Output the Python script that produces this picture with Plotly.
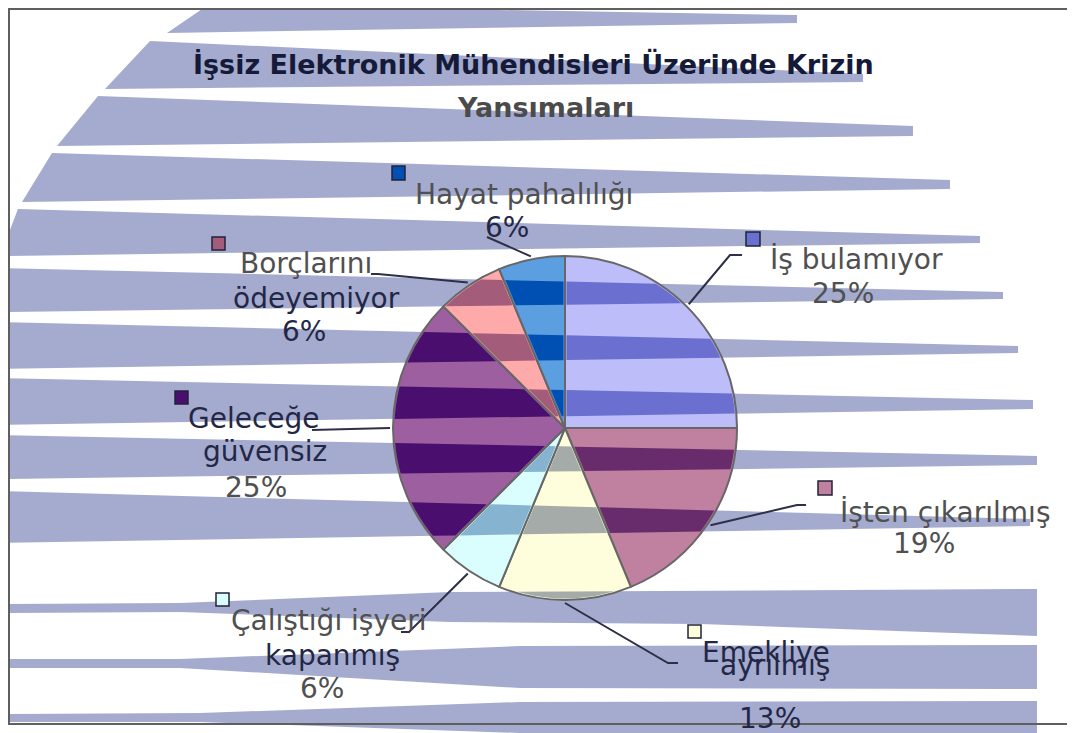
import math
import plotly.graph_objects as go

# ---- data ----
labels = ["İş bulamıyor", "İşten çıkarılmış", "Emekliye ayrılmış",
          "Çalıştığı işyeri kapanmış", "Geleceğe güvensiz",
          "Borçlarını ödeyemiyor", "Hayat pahalılığı"]
counts = [4, 3, 2, 1, 4, 1, 1]
label_lines = [["İş bulamıyor"], ["İşten çıkarılmış"], ["Emekliye", "ayrılmış"],
               ["Çalıştığı işyeri", "kapanmış"], ["Geleceğe", "güvensiz"],
               ["Borçlarını", "ödeyemiyor"], ["Hayat pahalılığı"]]
title_lines = ["İşsiz Elektronik Mühendisleri Üzerinde Krizin", "Yansımaları"]

# ---- style ----
PAGE_W, PAGE_H = 1075, 733
OFF = 8  # page body margin
W, H = PAGE_W - OFF, PAGE_H - OFF
CX, CY, R = 565, 428, 172
FONT = "DejaVu Sans"
stripe_color = "#A4ABCF"

slice_colors = ["#BDBEF9", "#C0809F", "#FEFEDD", "#DAFDFE", "#9D5F9F", "#FFAAAA", "#5C9FE0"]
slice_dark = ["#6A6FD0", "#682C6C", "#A5ABA8", "#86B4D0", "#4A0F6E", "#A45C7B", "#004FB2"]

# text line centres (page px) - last entry of each is the percentage
text_pos = [
    [(856, 259), (843, 293)],
    [(945, 512), (924, 543)],
    [(766, 652), (775, 665), (770, 718)],
    [(329, 620), (332, 655), (322, 688)],
    [(254, 418), (265, 452), (256, 487)],
    [(306, 264), (316, 298), (304, 331)],
    [(524, 195), (507, 228)],
]
# leader line points after the start on the pie edge (page px)
leader_pts = [
    [(730, 255), (742, 255)],
    [(797, 505), (806, 505)],
    [(668, 663), (678, 663)],
    [(409, 632), (401, 632)],
    [(312, 430)],
    [(378, 274), (371, 274)],
    [(487, 237)],
]
keys = [(746, 232, 760, 246), (818, 481, 832, 495), (688, 625, 701, 638),
        (216, 593, 229, 606), (175, 391, 188, 404), (212, 237, 225, 250),
        (392, 166, 405, 180)]

# background stripes of the slide (page px polygons)
stripes = [
    [(208, 5), (797, 15), (797, 23), (167, 33)],
    [(150, 41), (863, 74), (863, 82), (105, 89)],
    [(98, 96), (913, 126), (913, 136), (57, 146)],
    [(52, 153), (950, 180), (950, 189), (22, 202)],
    [(18, 209), (980, 236), (980, 243), (0, 256)],
    [(0, 268), (1003, 292), (1003, 299), (0, 312)],
    [(0, 322), (1018, 346), (1018, 353), (0, 369)],
    [(0, 378), (1033, 400), (1033, 409), (0, 425)],
    [(0, 435), (1037, 456), (1037, 465), (0, 479)],
    [(0, 491), (1030, 519), (1030, 526), (0, 543)],
    [(0, 604), (180, 603), (450, 592), (1037, 589), (1037, 636), (700, 624),
     (450, 622), (180, 612), (0, 613)],
    [(0, 659), (180, 659), (520, 646), (1037, 645), (1037, 689), (520, 688),
     (180, 668), (0, 668)],
    [(0, 714), (200, 713), (520, 702), (1037, 701), (1037, 733), (520, 733),
     (200, 722), (0, 722)],
]


def px(x, y):
    return (x - OFF) / W, 1 - (y - OFF) / H


def path(pts, close=True):
    s = ""
    for i, (x, y) in enumerate(pts):
        u, v = px(x, y)
        s += ("M" if i == 0 else "L") + f"{u:.5f},{v:.5f}"
    return s + ("Z" if close else "")


def inside(pt, poly):
    x, y = pt
    res = False
    for i in range(len(poly)):
        (x1, y1), (x2, y2) = poly[i], poly[i - 1]
        if (y1 > y) != (y2 > y):
            if x < x1 + (y - y1) * (x2 - x1) / (y2 - y1):
                res = not res
    return res


def in_stripe(pt):
    return any(inside(pt, s) for s in stripes)


def clip_half(poly, nx, ny, c):
    # keep part where nx*x + ny*y <= c
    out = []
    n = len(poly)
    for i in range(n):
        p, q = poly[i], poly[(i + 1) % n]
        dp = nx * p[0] + ny * p[1] - c
        dq = nx * q[0] + ny * q[1] - c
        if dp <= 0:
            out.append(p)
        if dp * dq < 0:
            t = dp / (dp - dq)
            out.append((p[0] + t * (q[0] - p[0]), p[1] + t * (q[1] - p[1])))
    return out


def clip_wedge(poly, a1, a2, inset=1.5):
    for k in range(120):
        phi = 2 * math.pi * k / 120
        ux, uy = math.sin(phi), -math.cos(phi)
        poly = clip_half(poly, ux, uy, ux * CX + uy * CY + R - inset)
        if not poly:
            return poly
    for a, sgn in ((a1, 1), (a2, -1)):
        nx, ny = -sgn * math.cos(a), -sgn * math.sin(a)
        poly = clip_half(poly, nx, ny, nx * CX + ny * CY - inset)
        if not poly:
            return poly
    return poly


total = sum(counts)
pct = [int(100 * c / total + 0.5) for c in counts]
starts = []
acc = 0
for c in counts:
    starts.append(2 * math.pi * acc / total)
    acc += c
ends = starts[1:] + [2 * math.pi]

dx0, dy1 = px(CX - R, CY - R)
dx1, dy0 = px(CX + R, CY + R)

fig = go.Figure()
fig.add_trace(go.Pie(
    labels=labels, values=counts, sort=False, direction="clockwise", rotation=0,
    marker=dict(colors=slice_colors, line=dict(color="#676767", width=2)),
    textinfo="none", hoverinfo="label+value+percent", showlegend=False,
    domain=dict(x=[dx0, dx1], y=[dy0, dy1]),
))

shapes = []
for s in stripes:
    shapes.append(dict(type="path", path=path(s), xref="paper", yref="paper",
                       fillcolor=stripe_color, line=dict(width=0), layer="below"))

# stripes seen through the slices
for i in range(len(counts)):
    for s in stripes:
        part = clip_wedge(list(s), starts[i], ends[i])
        if len(part) >= 3:
            shapes.append(dict(type="path", path=path(part), xref="paper", yref="paper",
                               fillcolor=slice_dark[i], line=dict(width=0), layer="above"))

# leader lines
for i in range(len(counts)):
    mid = (starts[i] + ends[i]) / 2
    p0 = (CX + (R + 3) * math.sin(mid), CY - (R + 3) * math.cos(mid))
    shapes.append(dict(type="path", path=path([p0] + leader_pts[i], close=False),
                       xref="paper", yref="paper",
                       line=dict(color="#2c2f45", width=2), layer="above"))

# legend keys beside labels
for i, (x0, y0, x1, y1) in enumerate(keys):
    col = slice_dark[i] if in_stripe(((x0 + x1) / 2, (y0 + y1) / 2)) else slice_colors[i]
    u0, v0 = px(x0, y1)
    u1, v1 = px(x1, y0)
    shapes.append(dict(type="rect", x0=u0, y0=v0, x1=u1, y1=v1, xref="paper", yref="paper",
                       fillcolor=col, line=dict(color="#222238", width=1.5), layer="above"))

# chart area border
u0, v0 = px(9, 724)
u1, v1 = px(1085, 9)
shapes.append(dict(type="rect", x0=u0, y0=v0, x1=u1, y1=v1, xref="paper", yref="paper",
                   line=dict(color="#5f5f5f", width=2), layer="above"))


def text_color(cx, cy, w, h, dark, light):
    hits = 0
    n = 0
    for a in range(7):
        for b in range(3):
            x = cx - w / 2 + w * a / 6
            y = cy - h / 2 + h * b / 2
            hits += in_stripe((x, y))
            n += 1
    return dark if hits / n > 0.5 else light


annotations = []
for i in range(len(counts)):
    lines = label_lines[i] + [f"{pct[i]}%"]
    for txt, (x, y) in zip(lines, text_pos[i]):
        u, v = px(x, y)
        col = text_color(x, y, len(txt) * 16, 20, "#232745", "#505050")
        annotations.append(dict(text=txt, x=u, y=v, xref="paper", yref="paper",
                                xanchor="center", yanchor="middle", showarrow=False,
                                font=dict(family=FONT, size=28, color=col)))

for txt, (x, y), col in zip(title_lines, [(533, 64), (545, 107)], ["#141a38", "#4b4b4b"]):
    u, v = px(x, y)
    annotations.append(dict(text=txt, x=u, y=v, xref="paper", yref="paper",
                            xanchor="center", yanchor="middle", showarrow=False,
                            font=dict(family=FONT, size=27, color=col, weight="bold")))

fig.update_layout(
    width=W, height=H, autosize=False,
    margin=dict(l=0, r=0, t=0, b=0),
    paper_bgcolor="white", plot_bgcolor="white",
    shapes=shapes, annotations=annotations,
)

fig.write_html("out.html")
